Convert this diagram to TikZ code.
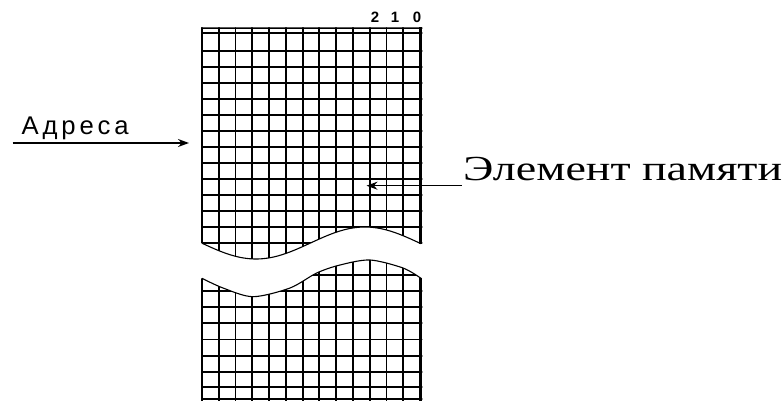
\documentclass[tikz,border=0pt]{standalone}
\usepackage{fontspec}
\usepackage{graphicx}
\setmainfont{Liberation Serif}
\newfontfamily\adrfont[LetterSpace=15]{Liberation Sans}
\newfontfamily\digfont{Liberation Sans}
\usetikzlibrary{arrows.meta}
\begin{document}
\begin{tikzpicture}[x=1pt,y=-1pt,
  gridline/.style={line width=1.8pt,black},
  edgeline/.style={line width=3.2pt,black},
  cutline/.style={line width=1.1pt,black},
  ptr/.style={line width=1.4pt,-{Stealth[length=11pt,width=8pt]}},
  lbl/.style={inner sep=0pt,anchor=base west},
  dig/.style={inner sep=0pt,anchor=base,font=\digfont\bfseries\fontsize{15}{15}\selectfont}]
\useasboundingbox (0,0) rectangle (784,401);
% ---------- upper block ----------
\begin{scope}
  \clip plot[domain=202:421,samples=90] (\x,{243+16*cos((\x-256)/109*180)})
        -- (422.3,243.7) -- (422.3,27.4) -- (201.1,27.4) -- (201.1,243) -- cycle;
  \foreach \i in {0,...,12} \draw[gridline] ({202+16.77*\i},20) -- ({202+16.77*\i},270);
  \draw[gridline] (199,28.3) -- (425,28.3);
  \draw[gridline] (199,33.3) -- (425,33.3);
  \foreach \k in {0,...,12} \draw[gridline] (199,{50.7+16*\k}) -- (425,{50.7+16*\k});
\end{scope}
\draw[cutline] plot[domain=202:421,samples=90] (\x,{243+16*cos((\x-256)/109*180)});
\draw[edgeline] (420.7,27.4) -- (420.7,243.7);
% ---------- lower block ----------
\begin{scope}
  \clip plot[smooth] coordinates {(202,278.3) (223,288) (253,296.7) (290,288) (316.7,273) (340,265) (370,260) (403,268) (421,278.3)}
        -- (422.3,278.3) -- (422.3,405) -- (201.1,405) -- (201.1,278.3) -- cycle;
  \foreach \i in {0,...,12} \draw[gridline] ({202+16.77*\i},250) -- ({202+16.77*\i},405);
  \foreach \yy in {275,291,307.3,323.3,339.5,355.7,371.7,387,399.3}
    \draw[gridline] (199,\yy) -- (425,\yy);
\end{scope}
\draw[cutline] plot[smooth] coordinates {(202,278.3) (223,288) (253,296.7) (290,288) (316.7,273) (340,265) (370,260) (403,268) (421,278.3)};
\draw[edgeline] (420.7,277.5) -- (420.7,402);
% ---------- bit numbers ----------
\node[dig] (d2) at (375,22.7) {2};
\node[dig] (d1) at (395,22.7) {1};
\node[dig] (d0) at (417,22.7) {0};
% ---------- labels ----------
\node[lbl] (adr) at (21.5,134.3) {\resizebox{107pt}{17.6pt}{\adrfont Адреса}};
\coordinate (adrS) at (12.7,143);
\coordinate (adrE) at (189,143);
\draw[ptr] (adrS) -- (adrE);
\node[lbl] (elem) at (463,180) {\resizebox{319pt}{23.3pt}{\fontsize{35}{35}\selectfont Элемент памяти}};
\coordinate (elS) at (461.7,185.7);
\coordinate (elE) at (366.5,185.7);
\draw[ptr] (elS) -- (elE);
\end{tikzpicture}
\end{document}
